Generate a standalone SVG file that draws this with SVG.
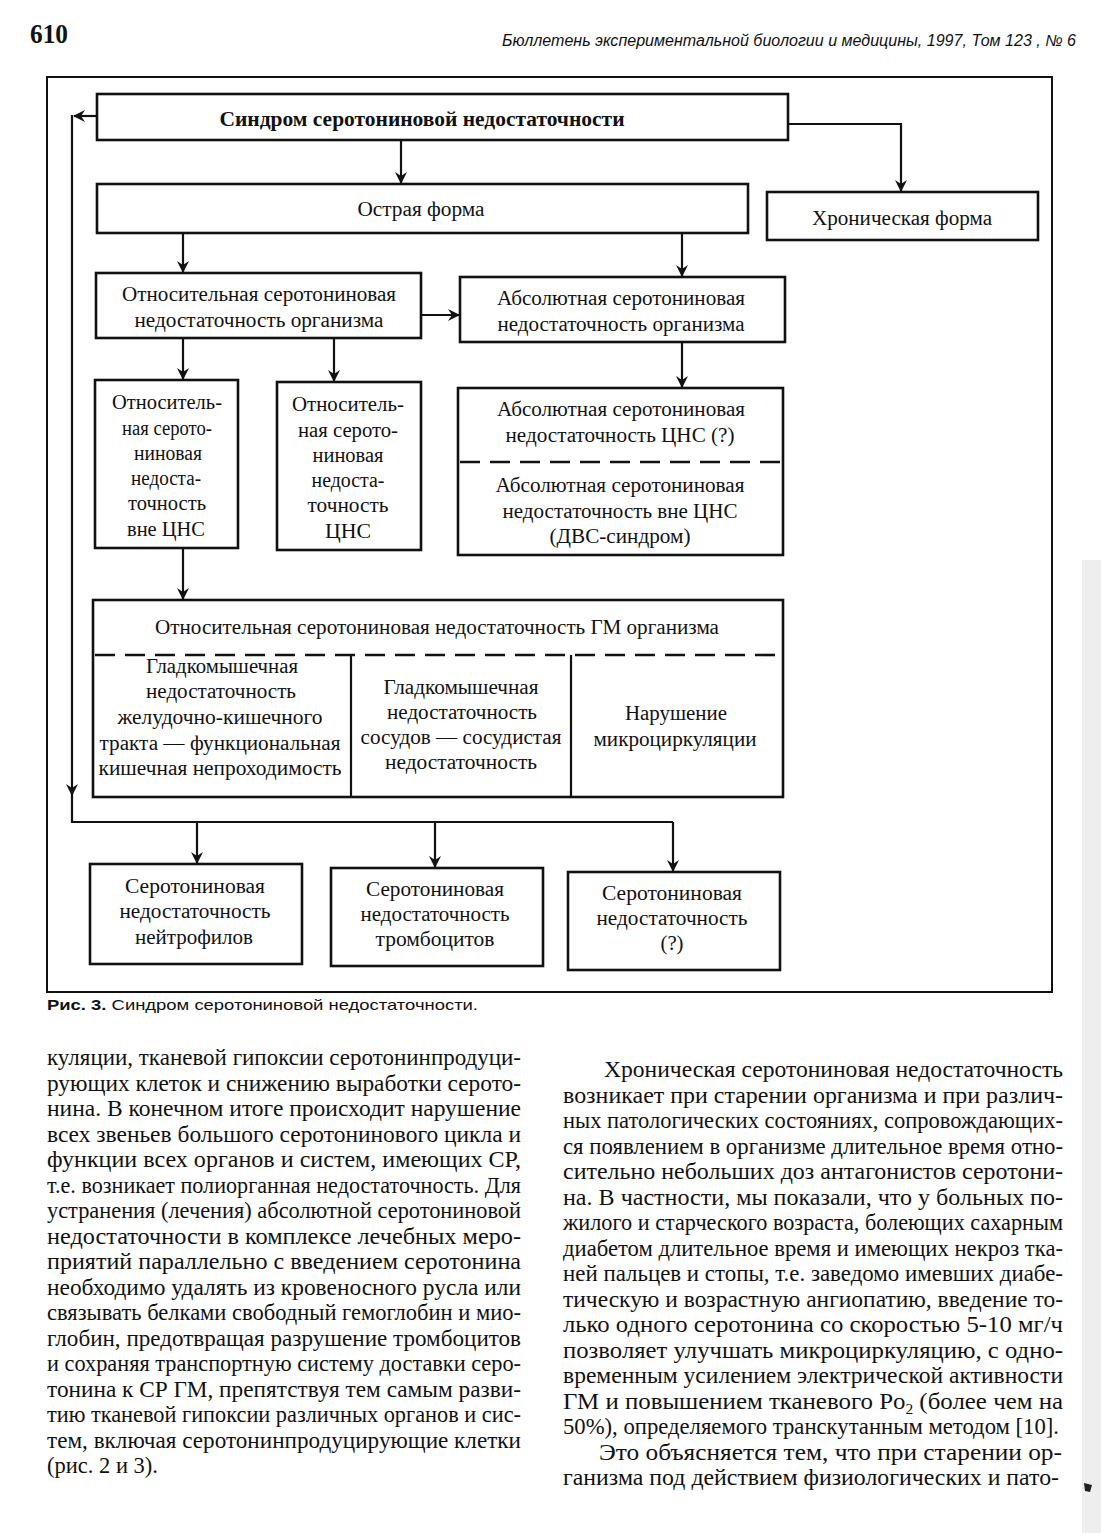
<svg xmlns="http://www.w3.org/2000/svg" width="1101" height="1533" viewBox="0 0 1101 1533">
<defs>
<marker id="ah" markerUnits="userSpaceOnUse" markerWidth="14" markerHeight="14" refX="11" refY="6" orient="auto">
<path d="M0,0 L12,6 L0,12 L4,6 z" fill="#111"/>
</marker>
</defs>
<style>
.bx{fill:#fff;stroke:#111;stroke-width:2.6}
.ln{fill:none;stroke:#111;stroke-width:2.2}
.ds{fill:none;stroke:#111;stroke-width:2.6;stroke-dasharray:20 10}
.t{font-family:"Liberation Serif","Times New Roman",serif;font-size:20.5px;fill:#111;text-anchor:middle}
.tb{font-family:"Liberation Serif","Times New Roman",serif;font-size:21px;font-weight:bold;fill:#111;text-anchor:middle}
.bd{font-family:"Liberation Serif","Times New Roman",serif;font-size:22.5px;fill:#111}
.hd{font-family:"Liberation Sans Narrow","Liberation Sans",Arial,sans-serif;fill:#111}
</style>
<rect width="1101" height="1533" fill="#fff"/>
<rect x="1082" y="560" width="19" height="973" fill="#eeeeee"/>
<path d="M1084,1483 L1092,1485 L1090,1492 L1085,1491 z" fill="#222"/>

<g id="header">
<text x="30" y="43" font-family="Liberation Serif,serif" font-size="27" font-weight="bold" fill="#111" textLength="38" lengthAdjust="spacingAndGlyphs">610</text>
<text class="hd" x="502" y="46" font-size="16" font-style="italic" textLength="574" lengthAdjust="spacingAndGlyphs">Бюллетень экспериментальной биологии и медицины, 1997, Том 123 , № 6</text>
</g>

<g id="frame">
<rect x="47" y="77" width="1005" height="915" fill="none" stroke="#111" stroke-width="2"/>
</g>

<g id="connectors">
<path class="ln" d="M401,140 V183" marker-end="url(#ah)"/>
<path class="ln" d="M788,124 H901 V191" marker-end="url(#ah)"/>
<path class="ln" d="M183,233 V272" marker-end="url(#ah)"/>
<path class="ln" d="M682,233 V276" marker-end="url(#ah)"/>
<path class="ln" d="M421,315 H459" marker-end="url(#ah)"/>
<path class="ln" d="M183,338 V379" marker-end="url(#ah)"/>
<path class="ln" d="M334,338 V381" marker-end="url(#ah)"/>
<path class="ln" d="M682,342 V387" marker-end="url(#ah)"/>
<path class="ln" d="M183,548 V599" marker-end="url(#ah)"/>
<path class="ln" d="M97,116 H74" marker-end="url(#ah)"/>
<path class="ln" d="M72,115 V795" marker-end="url(#ah)"/>
<path class="ln" d="M72,792 V822 H673"/>
<path class="ln" d="M197,822 V863" marker-end="url(#ah)"/>
<path class="ln" d="M435,822 V867" marker-end="url(#ah)"/>
<path class="ln" d="M673,822 V871" marker-end="url(#ah)"/>
</g>

<g id="n-syndrome">
<rect class="bx" x="97" y="94" width="691" height="46"/>
<text class="tb" x="422" y="126" textLength="405" lengthAdjust="spacingAndGlyphs">Синдром серотониновой недостаточности</text>
</g>
<g id="n-acute">
<rect class="bx" x="97" y="184" width="651" height="49"/>
<text class="t" x="421" y="216" textLength="127" lengthAdjust="spacingAndGlyphs">Острая форма</text>
</g>
<g id="n-chronic">
<rect class="bx" x="767" y="192" width="271" height="48"/>
<text class="t" x="902" y="225" textLength="180" lengthAdjust="spacingAndGlyphs">Хроническая форма</text>
</g>
<g id="n-rel-org">
<rect class="bx" x="96" y="273" width="325" height="65"/>
<text class="t" x="259" y="301" textLength="274" lengthAdjust="spacingAndGlyphs">Относительная серотониновая</text>
<text class="t" x="259" y="327" textLength="249" lengthAdjust="spacingAndGlyphs">недостаточность организма</text>
</g>
<g id="n-abs-org">
<rect class="bx" x="460" y="277" width="325" height="65"/>
<text class="t" x="621" y="305" textLength="248" lengthAdjust="spacingAndGlyphs">Абсолютная серотониновая</text>
<text class="t" x="621" y="331" textLength="247" lengthAdjust="spacingAndGlyphs">недостаточность организма</text>
</g>
<g id="n-rel-out">
<rect class="bx" x="95" y="380" width="143" height="168"/>
<text class="t" x="167" y="409" textLength="110" lengthAdjust="spacingAndGlyphs">Относитель-</text>
<text class="t" x="167" y="435" textLength="90" lengthAdjust="spacingAndGlyphs">ная серото-</text>
<text class="t" x="168" y="460" textLength="68" lengthAdjust="spacingAndGlyphs">ниновая</text>
<text class="t" x="166" y="485" textLength="70" lengthAdjust="spacingAndGlyphs">недоста-</text>
<text class="t" x="167" y="510" textLength="78" lengthAdjust="spacingAndGlyphs">точность</text>
<text class="t" x="166" y="536" textLength="78" lengthAdjust="spacingAndGlyphs">вне ЦНС</text>
</g>
<g id="n-rel-cns">
<rect class="bx" x="277" y="382" width="144" height="168"/>
<text class="t" x="348" y="411" textLength="112" lengthAdjust="spacingAndGlyphs">Относитель-</text>
<text class="t" x="348" y="437" textLength="100" lengthAdjust="spacingAndGlyphs">ная серото-</text>
<text class="t" x="348" y="462" textLength="71" lengthAdjust="spacingAndGlyphs">ниновая</text>
<text class="t" x="348" y="487" textLength="73" lengthAdjust="spacingAndGlyphs">недоста-</text>
<text class="t" x="348" y="512" textLength="81" lengthAdjust="spacingAndGlyphs">точность</text>
<text class="t" x="348" y="538" textLength="46" lengthAdjust="spacingAndGlyphs">ЦНС</text>
</g>
<g id="n-abs-cns">
<rect class="bx" x="458" y="388" width="325" height="167"/>
<path class="ds" d="M460,462 H781"/>
<text class="t" x="621" y="416" textLength="248" lengthAdjust="spacingAndGlyphs">Абсолютная серотониновая</text>
<text class="t" x="620" y="442" textLength="229" lengthAdjust="spacingAndGlyphs">недостаточность ЦНС (?)</text>
<text class="t" x="620" y="492" textLength="249" lengthAdjust="spacingAndGlyphs">Абсолютная серотониновая</text>
<text class="t" x="620" y="518" textLength="235" lengthAdjust="spacingAndGlyphs">недостаточность вне ЦНС</text>
<text class="t" x="620" y="543" textLength="141" lengthAdjust="spacingAndGlyphs">(ДВС-синдром)</text>
</g>
<g id="n-rel-gm">
<rect class="bx" x="93" y="600" width="690" height="197"/>
<path class="ds" d="M95,655 H781"/>
<path class="ln" d="M351,655 V796 M571,655 V796"/>
<text class="t" x="437" y="634" textLength="564" lengthAdjust="spacingAndGlyphs">Относительная серотониновая недостаточность ГМ организма</text>
<text class="t" x="222" y="673" textLength="152" lengthAdjust="spacingAndGlyphs">Гладкомышечная</text>
<text class="t" x="221" y="698" textLength="150" lengthAdjust="spacingAndGlyphs">недостаточность</text>
<text class="t" x="220" y="724" textLength="205" lengthAdjust="spacingAndGlyphs">желудочно-кишечного</text>
<text class="t" x="220" y="750" textLength="241" lengthAdjust="spacingAndGlyphs">тракта — функциональная</text>
<text class="t" x="220" y="775" textLength="243" lengthAdjust="spacingAndGlyphs">кишечная непроходимость</text>
<text class="t" x="461" y="694" textLength="155" lengthAdjust="spacingAndGlyphs">Гладкомышечная</text>
<text class="t" x="462" y="719" textLength="150" lengthAdjust="spacingAndGlyphs">недостаточность</text>
<text class="t" x="461" y="744" textLength="201" lengthAdjust="spacingAndGlyphs">сосудов — сосудистая</text>
<text class="t" x="461" y="769" textLength="152" lengthAdjust="spacingAndGlyphs">недостаточность</text>
<text class="t" x="676" y="720" textLength="102" lengthAdjust="spacingAndGlyphs">Нарушение</text>
<text class="t" x="675" y="746" textLength="163" lengthAdjust="spacingAndGlyphs">микроциркуляции</text>
</g>
<g id="n-neutro">
<rect class="bx" x="90" y="864" width="212" height="100"/>
<text class="t" x="195" y="893" textLength="140" lengthAdjust="spacingAndGlyphs">Серотониновая</text>
<text class="t" x="195" y="918" textLength="151" lengthAdjust="spacingAndGlyphs">недостаточность</text>
<text class="t" x="194" y="944" textLength="118" lengthAdjust="spacingAndGlyphs">нейтрофилов</text>
</g>
<g id="n-thrombo">
<rect class="bx" x="331" y="868" width="212" height="98"/>
<text class="t" x="435" y="896" textLength="138" lengthAdjust="spacingAndGlyphs">Серотониновая</text>
<text class="t" x="435" y="921" textLength="149" lengthAdjust="spacingAndGlyphs">недостаточность</text>
<text class="t" x="435" y="946" textLength="119" lengthAdjust="spacingAndGlyphs">тромбоцитов</text>
</g>
<g id="n-unknown">
<rect class="bx" x="568" y="872" width="212" height="98"/>
<text class="t" x="672" y="900" textLength="140" lengthAdjust="spacingAndGlyphs">Серотониновая</text>
<text class="t" x="672" y="925" textLength="151" lengthAdjust="spacingAndGlyphs">недостаточность</text>
<text class="t" x="672" y="950" textLength="23" lengthAdjust="spacingAndGlyphs">(?)</text>
</g>

<g id="caption">
<text class="hd" x="47" y="1010" font-size="15" textLength="431" lengthAdjust="spacingAndGlyphs"><tspan font-weight="bold">Рис. 3.</tspan> Синдром серотониновой недостаточности.</text>
</g>

<g id="body-left" class="bd">
<text x="47" y="1065" textLength="474" lengthAdjust="spacingAndGlyphs">куляции, тканевой гипоксии серотонинпродуци-</text>
<text x="47" y="1090.5" textLength="474" lengthAdjust="spacingAndGlyphs">рующих клеток и снижению выработки серото-</text>
<text x="47" y="1116" textLength="474" lengthAdjust="spacingAndGlyphs">нина. В конечном итоге происходит нарушение</text>
<text x="47" y="1141.5" textLength="474" lengthAdjust="spacingAndGlyphs">всех звеньев большого серотонинового цикла и</text>
<text x="47" y="1167" textLength="474" lengthAdjust="spacingAndGlyphs">функции всех органов и систем, имеющих СР,</text>
<text x="47" y="1192.5" textLength="474" lengthAdjust="spacingAndGlyphs">т.е. возникает полиорганная недостаточность. Для</text>
<text x="47" y="1218" textLength="474" lengthAdjust="spacingAndGlyphs">устранения (лечения) абсолютной серотониновой</text>
<text x="47" y="1243.5" textLength="474" lengthAdjust="spacingAndGlyphs">недостаточности в комплексе лечебных меро-</text>
<text x="47" y="1269" textLength="474" lengthAdjust="spacingAndGlyphs">приятий параллельно с введением серотонина</text>
<text x="47" y="1294.5" textLength="474" lengthAdjust="spacingAndGlyphs">необходимо удалять из кровеносного русла или</text>
<text x="47" y="1320" textLength="474" lengthAdjust="spacingAndGlyphs">связывать белками свободный гемоглобин и мио-</text>
<text x="47" y="1345.5" textLength="474" lengthAdjust="spacingAndGlyphs">глобин, предотвращая разрушение тромбоцитов</text>
<text x="47" y="1371" textLength="474" lengthAdjust="spacingAndGlyphs">и сохраняя транспортную систему доставки серо-</text>
<text x="47" y="1396.5" textLength="474" lengthAdjust="spacingAndGlyphs">тонина к СР ГМ, препятствуя тем самым разви-</text>
<text x="47" y="1422" textLength="474" lengthAdjust="spacingAndGlyphs">тию тканевой гипоксии различных органов и сис-</text>
<text x="47" y="1447.5" textLength="474" lengthAdjust="spacingAndGlyphs">тем, включая серотонинпродуцирующие клетки</text>
<text x="47" y="1473">(рис. 2 и 3).</text>
</g>

<g id="body-right" class="bd">
<text x="604" y="1077" textLength="459" lengthAdjust="spacingAndGlyphs">Хроническая серотониновая недостаточность</text>
<text x="563" y="1102.5" textLength="500" lengthAdjust="spacingAndGlyphs">возникает при старении организма и при различ-</text>
<text x="563" y="1128" textLength="500" lengthAdjust="spacingAndGlyphs">ных патологических состояниях, сопровождающих-</text>
<text x="563" y="1153.5" textLength="500" lengthAdjust="spacingAndGlyphs">ся появлением в организме длительное время отно-</text>
<text x="563" y="1179" textLength="500" lengthAdjust="spacingAndGlyphs">сительно небольших доз антагонистов серотони-</text>
<text x="563" y="1204.5" textLength="500" lengthAdjust="spacingAndGlyphs">на. В частности, мы показали, что у больных по-</text>
<text x="563" y="1230" textLength="500" lengthAdjust="spacingAndGlyphs">жилого и старческого возраста, болеющих сахарным</text>
<text x="563" y="1255.5" textLength="500" lengthAdjust="spacingAndGlyphs">диабетом длительное время и имеющих некроз тка-</text>
<text x="563" y="1281" textLength="500" lengthAdjust="spacingAndGlyphs">ней пальцев и стопы, т.е. заведомо имевших диабе-</text>
<text x="563" y="1306.5" textLength="500" lengthAdjust="spacingAndGlyphs">тическую и возрастную ангиопатию, введение то-</text>
<text x="563" y="1332" textLength="500" lengthAdjust="spacingAndGlyphs">лько одного серотонина со скоростью 5-10 мг/ч</text>
<text x="563" y="1357.5" textLength="500" lengthAdjust="spacingAndGlyphs">позволяет улучшать микроциркуляцию, с одно-</text>
<text x="563" y="1383" textLength="500" lengthAdjust="spacingAndGlyphs">временным усилением электрической активности</text>
<text x="563" y="1408.5" textLength="500" lengthAdjust="spacingAndGlyphs">ГМ и повышением тканевого Po<tspan font-size="14" dy="5">2</tspan><tspan dy="-5"> (более чем на</tspan></text>
<text x="563" y="1434" textLength="496" lengthAdjust="spacingAndGlyphs">50%), определяемого транскутанным методом [10].</text>
<text x="599" y="1459.5" textLength="463" lengthAdjust="spacingAndGlyphs">Это объясняется тем, что при старении ор-</text>
<text x="563" y="1485" textLength="496" lengthAdjust="spacingAndGlyphs">ганизма под действием физиологических и пато-</text>
</g>
</svg>
